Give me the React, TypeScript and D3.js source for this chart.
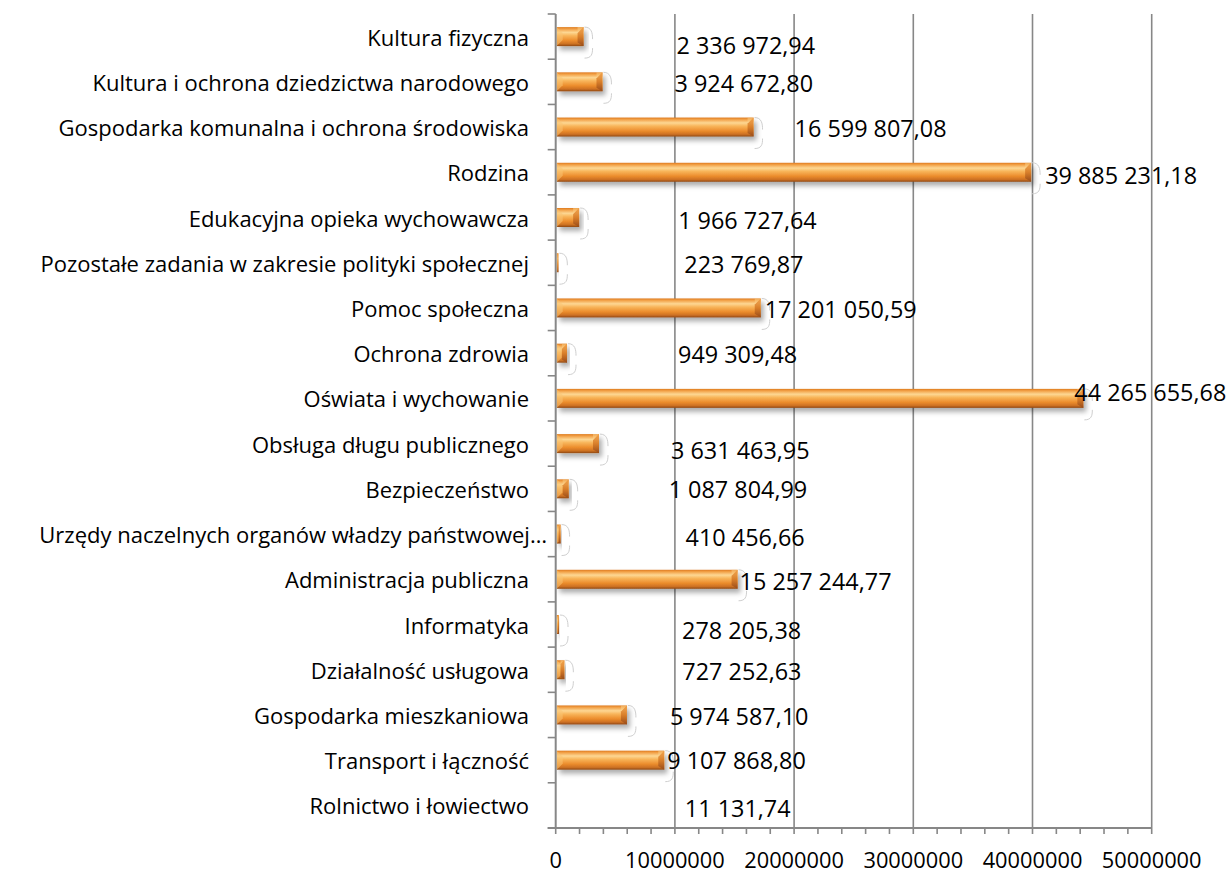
import React from "react";
import * as d3 from "d3";

const categories = [
  "Kultura fizyczna",
  "Kultura i ochrona dziedzictwa narodowego",
  "Gospodarka komunalna i ochrona środowiska",
  "Rodzina",
  "Edukacyjna opieka wychowawcza",
  "Pozostałe zadania w zakresie polityki społecznej",
  "Pomoc społeczna",
  "Ochrona zdrowia",
  "Oświata i wychowanie",
  "Obsługa długu publicznego",
  "Bezpieczeństwo",
  "Urzędy naczelnych organów władzy państwowej…",
  "Administracja publiczna",
  "Informatyka",
  "Działalność usługowa",
  "Gospodarka mieszkaniowa",
  "Transport i łączność",
  "Rolnictwo i łowiectwo",
];

const values = [
  2336972.94, 3924672.8, 16599807.08, 39885231.18, 1966727.64, 223769.87,
  17201050.59, 949309.48, 44265655.68, 3631463.95, 1087804.99, 410456.66,
  15257244.77, 278205.38, 727252.63, 5974587.1, 9107868.8, 11131.74,
];

const valueLabels = [
  "2 336 972,94", "3 924 672,80", "16 599 807,08", "39 885 231,18",
  "1 966 727,64", "223 769,87", "17 201 050,59", "949 309,48",
  "44 265 655,68", "3 631 463,95", "1 087 804,99", "410 456,66",
  "15 257 244,77", "278 205,38", "727 252,63", "5 974 587,10",
  "9 107 868,80", "11 131,74",
];

const xTicks = [0, 10000000, 20000000, 30000000, 40000000, 50000000];

// label nudges (layout, px)
const labelDx = [93, 72, 41, 14, 99, 126, 4, 111, -9, 72, 100, 125, 2, 123, 118, 43, 3, 129];
const labelDy = [8, 1, 1, 3, 2, 1, 1, 1, -6, 6, 0, 3, 2, 5, 1, 1, 0, 3];

const W = 1229;
const H = 873;
const left = 555.7;
const right = 1151.7;
const top = 14;
const bottom = 828;
const FONT = "'Open Sans', 'Noto Sans', sans-serif";
const FS_CAT = 22;
const FS_VAL = 23.4;
const FS_TICK = 21.8;
const AX = "#878787";

export default function App() {
  const x = d3.scaleLinear().domain([0, 50000000]).range([left, right]);
  const y = d3.scaleBand<string>().domain(categories).range([top, bottom]).padding(0);
  const step = y.step();
  const barH = 19;
  const minor = d3.range(0, 50000001, 2000000);

  return (
    <div>
      <style>{`body{margin:0;}`}</style>
      <svg width={W} height={H} style={{ display: "block", background: "#fff" }}>
        <defs>
          <linearGradient id="barGrad" x1="0" y1="0" x2="0" y2="1">
            <stop offset="0" stopColor="#DE7A1E" />
            <stop offset="0.1" stopColor="#F2A046" />
            <stop offset="0.28" stopColor="#FDD793" />
            <stop offset="0.45" stopColor="#F8B55A" />
            <stop offset="0.7" stopColor="#EC8D2D" />
            <stop offset="0.88" stopColor="#CD7123" />
            <stop offset="1" stopColor="#8F4813" />
          </linearGradient>
          <linearGradient id="endGrad" x1="0" y1="0" x2="0" y2="1">
            <stop offset="0" stopColor="#F1A24A" />
            <stop offset="0.5" stopColor="#D67A26" />
            <stop offset="1" stopColor="#94491A" />
          </linearGradient>
          <filter id="shadow" x="-20%" y="-50%" width="140%" height="220%">
            <feDropShadow dx="3" dy="4" stdDeviation="2.5" floodColor="#000" floodOpacity="0.32" />
          </filter>
        </defs>

        {/* gridlines */}
        {xTicks.slice(1).map((t) => (
          <line key={"g" + t} x1={x(t)} x2={x(t)} y1={top} y2={bottom} stroke={AX} strokeWidth={1.6} />
        ))}

        {/* bars */}
        {categories.map((c, i) => {
          const v = values[i];
          const x0 = x(0) + 1;
          const x1 = x(v);
          const w = Math.max(x1 - x0, 0);
          const yc = (y(c) as number) + step / 2;
          const y0 = yc - barH / 2;
          const y1 = yc + barH / 2;
          if (w < 0.5) return null;
          const b = Math.min(6, w / 2);
          return (
            <g key={"b" + i}>
              <g filter="url(#shadow)">
                <rect x={x0} y={y0} width={w} height={barH} fill="url(#barGrad)" />
              </g>
              <polygon
                points={`${x0},${y0} ${x0 + b},${y0 + b} ${x0 + b},${y1 - b} ${x0},${y1}`}
                fill="#F9C573"
                opacity={0.55}
              />
              <polygon
                points={`${x1},${y0} ${x1},${y1} ${x1 - b},${y1 - b * 0.6} ${x1 - b},${y0 + b}`}
                fill="url(#endGrad)"
                opacity={0.9}
              />
              <polygon
                points={`${x1 - b},${y0} ${x1},${y0} ${x1 - b},${y0 + b}`}
                fill="#FBD189"
                opacity={0.5}
              />
              <path
                d={`M${x1 + 1},${y0} C${x1 + 8},${y0} ${x1 + 9},${y0 + 6} ${x1 + 9},${y0 + 12} M${x1 + 9},${y0 + 21} C${x1 + 9},${y0 + 27} ${x1 + 8},${y0 + 31} ${x1 + 1},${y0 + 31}`}
                fill="none"
                stroke="#CFCFCF"
                strokeWidth={1}
              />
            </g>
          );
        })}

        {/* y axis */}
        <line x1={left} x2={left} y1={top} y2={bottom} stroke={AX} strokeWidth={2} />
        {d3.range(categories.length + 1).map((k) => (
          <line key={"yt" + k} x1={left - 8} x2={left} y1={top + k * step} y2={top + k * step} stroke={AX} strokeWidth={1.6} />
        ))}

        {/* x axis */}
        <line x1={left - 8} x2={right} y1={bottom} y2={bottom} stroke={AX} strokeWidth={2} />
        {minor.map((t) => (
          <line key={"xt" + t} x1={x(t)} x2={x(t)} y1={bottom} y2={bottom + 6} stroke={AX} strokeWidth={1.6} />
        ))}
        {xTicks.map((t) => (
          <text
            key={"xl" + t}
            x={x(t)}
            y={868}
            textAnchor="middle"
            fontFamily={FONT}
            fontSize={FS_TICK}
            fill="#000"
          >
            {String(t)}
          </text>
        ))}

        {/* category labels */}
        {categories.map((c, i) => (
          <text
            key={"cl" + i}
            x={c.endsWith("…") ? 547 : 529}
            y={(y(c) as number) + step / 2}
            textAnchor="end"
            dominantBaseline="central"
            fontFamily={FONT}
            fontSize={FS_CAT}
            fill="#000"
          >
            {c}
          </text>
        ))}

        {/* value labels */}
        {categories.map((c, i) => (
          <text
            key={"vl" + i}
            x={x(values[i]) + labelDx[i]}
            y={(y(c) as number) + step / 2 + labelDy[i]}
            dominantBaseline="central"
            fontFamily={FONT}
            fontSize={FS_VAL}
            fill="#000"
          >
            {valueLabels[i]}
          </text>
        ))}
      </svg>
    </div>
  );
}
